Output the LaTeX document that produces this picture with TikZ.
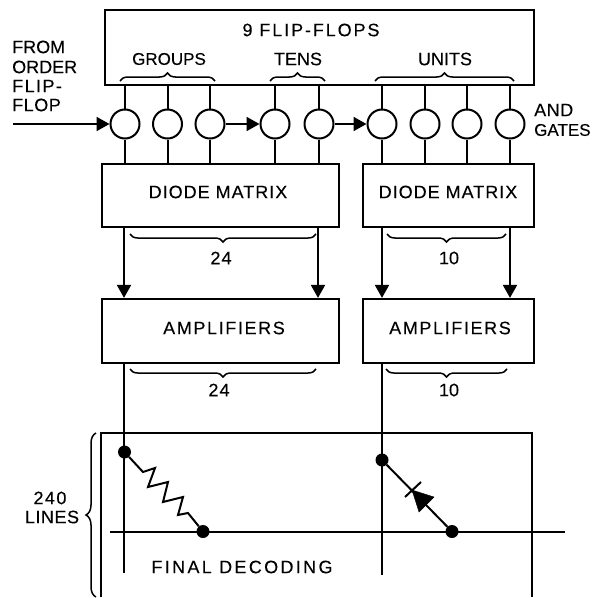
\documentclass[tikz,border=0pt]{standalone}
\usepackage{fontspec}
\setmainfont{Liberation Sans}
\usepackage{tikz}
\usetikzlibrary{calc}
\usetikzlibrary{arrows.meta,decorations.pathreplacing}
\tikzset{
	lbl/.style={inner sep=0pt},
	lblw/.style={lbl,font=\fontsize{18}{20}\selectfont\addfontfeature{LetterSpace=#1,FakeBold=0.2}},
	lbln/.style={lbl,font=\fontsize{17}{20}\selectfont\addfontfeature{FakeBold=0.2}},
	bloc/.style={draw,line width=2.2pt,inner sep=0pt},
	porte/.style={draw,circle,line width=2pt,minimum size=29pt,inner sep=0pt},
	point/.style={circle,fill,minimum size=13pt,inner sep=0pt},
	fil/.style={line width=2pt},
	fleche/.style={line width=2pt,-{Triangle[length=13pt,width=14pt]}},
	acc/.style={line width=1.5pt,decorate,decoration={brace,amplitude=#1}}
}
\begin{document}
\begin{tikzpicture}[x=1pt,y=-1pt]
	\def\yP{124}
	\def\yM{299}
\useasboundingbox (0,0) rectangle (604,597);

%Blocs
\node[bloc,minimum width=429pt,minimum height=75pt] (ff) at (319.5,47.5) {};
\node[bloc,minimum width=237pt,minimum height=63pt] (dmA) at (220.5,195.5) {};
\node[bloc,minimum width=171pt,minimum height=63pt] (dmB) at (448.5,195.5) {};
\node[bloc,minimum width=237pt,minimum height=64pt] (ampA) at (220.5,331) {};
\node[bloc,minimum width=171pt,minimum height=64pt] (ampB) at (448.5,331) {};

%Textes des blocs
\node[lblw=10.5] (tff) at (311,30) {9 FLIP-FLOPS};
\node[lbln] (tgroups) at (169,59) {GROUPS};
\node[lblw=0] (ttens) at (298,59) {TENS};
\node[lblw=0] (tunits) at (445,59) {UNITS};
\node[lblw=5.5] (tdmA) at (218,192) {DIODE MATRIX};
\node[lblw=5.5] (tdmB) at (448,192) {DIODE MATRIX};
\node[lblw=9] (tampA) at (224,328) {AMPLIFIERS};
\node[lblw=9] (tampB) at (450,328) {AMPLIFIERS};

%Portes
\foreach \nom/\x in {g1/125,g2/167.5,g3/210,g4/275,g5/319,g6/382,g7/425,g8/467,g9/510} {
	\node[porte] (\nom) at (\x,\yP) {};
	\draw[fil] (\nom) -- (\nom |- ff.south);
}
\foreach \nom in {g1,g2,g3,g4,g5} {
	\draw[fil] (\nom) -- (\nom |- dmA.north);
}
\foreach \nom in {g6,g7,g8,g9} {
	\draw[fil] (\nom) -- (\nom |- dmB.north);
}

%Fleches entre les portes
\coordinate (ordre) at (13,\yP);
\draw[fleche] (ordre) -- (g1);
\draw[fleche] (g3) -- (g4);
\draw[fleche] (g5) -- (g6);

%Fleches vers les amplificateurs
\foreach \nom/\x/\bh/\bb in {a/124/dmA/ampA,b/318/dmA/ampA,c/382/dmB/ampB,d/510/dmB/ampB} {
	\coordinate (\nom) at (\x,\yM);
	\draw[fleche] (\nom |- \bh.south) -- (\nom |- \bb.north);
}

%Accolades
\draw[acc=8pt] (120,81) -- (215,81);
\draw[acc=8pt] (270,81) -- (325,81);
\draw[acc=8pt] (375,81) -- (514,81);
\draw[acc=8pt] (316,234) -- (130,234);
\draw[acc=8pt] (506,234) -- (387,234);
\draw[acc=8pt] (316,369) -- (130,369);
\draw[acc=8pt] (507,369) -- (386,369);
\draw[acc=10pt] (96,597) -- (96,433);

\node[lblw=6] (nA) at (221,258) {24};
\node[lblw=0] (nB) at (449,258) {10};
\node[lblw=6] (nC) at (219,390) {24};
\node[lblw=0] (nD) at (449,390) {10};

%Textes de gauche et de droite
\node[lblw=0,anchor=west] (from) at (12,47) {FROM};
\node[lblw=0,anchor=west] (order) at (12,67) {ORDER};
\node[lblw=8,anchor=west] (flip) at (12,86) {FLIP-};
\node[lblw=3,anchor=west] (flop) at (12,105) {FLOP};
\node[lblw=3,anchor=west] (and) at (534,110) {AND};
\node[lbln,anchor=west] (gates) at (534,130) {GATES};
\node[lblw=8] (n240) at (50,498) {240};
\node[lblw=3] (lines) at (52,517) {LINES};

%Decodage final
\draw[bloc] (101,597) -- (101,433) -- (532,433) -- (532,597);
\coordinate (hG) at (110,531.5);
\coordinate (hD) at (565,531.5);
\draw[fil] (hG) -- (hD);
\node[point] (pA) at (124.5,452) {};
\node[point] (pB) at (203,531.5) {};
\node[point] (pC) at (382,460) {};
\node[point] (pD) at (452,531.5) {};
\coordinate (bA) at (124,573);
\coordinate (bC) at (382,575);
\draw[fil] (ampA.south -| bA) -- (bA);
\draw[fil] (ampB.south -| bC) -- (bC);
\node[lblw=13] (tfinal) at (242,567) {FINAL DECODING};

%Resistance
\draw[fil] (pA) -- (143,472) -- (155,468) -- (148,487) -- (168,482) -- (163,502) -- (183,497) -- (178,515) -- (188,513) -- (pB);

%Diode
\draw[fil] (pC) -- (pD);
\draw[fil] (405,497) -- (421,482);
\filldraw (412,490) -- (434,497) -- (419,512) -- cycle;

\end{tikzpicture}
\end{document}
